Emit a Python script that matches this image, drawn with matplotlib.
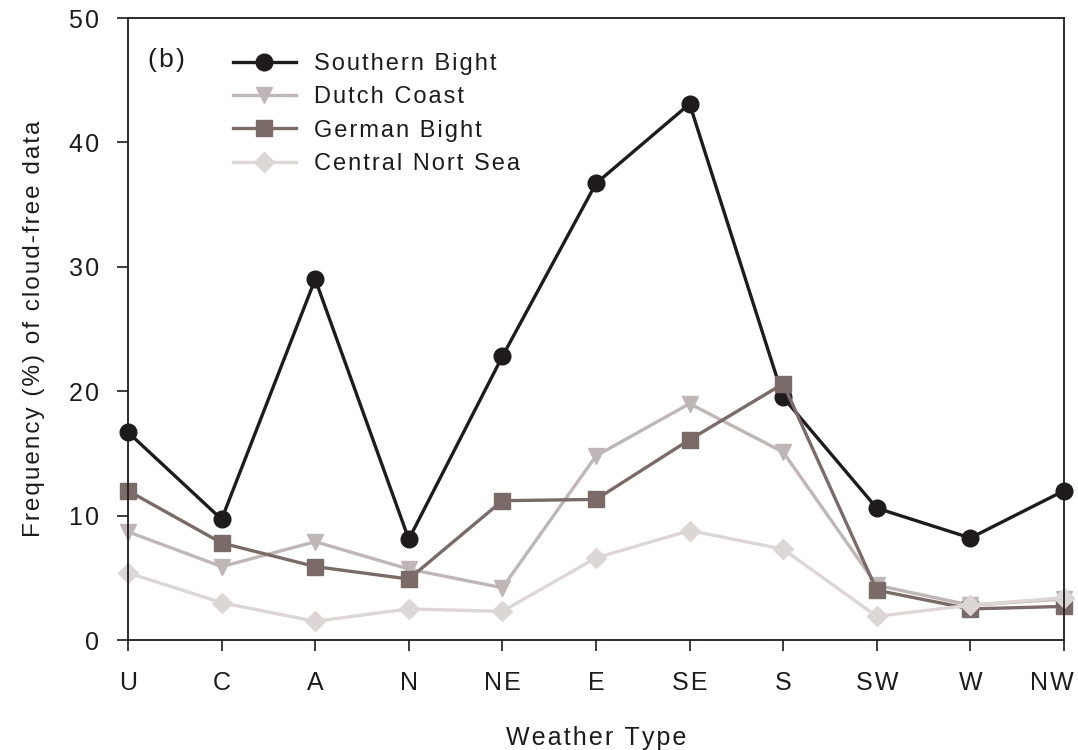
import matplotlib.pyplot as plt
import matplotlib.lines as mlines
from matplotlib.transforms import ScaledTranslation

plt.rcParams['font.family'] = ['Liberation Sans', 'DejaVu Sans']

weather_types = ['U', 'C', 'A', 'N', 'NE', 'E', 'SE', 'S', 'SW', 'W', 'NW']
southern_bight = [16.7, 9.7, 29.0, 8.1, 22.8, 36.7, 43.1, 19.5, 10.6, 8.2, 12.0]
dutch_coast = [8.7, 5.9, 7.9, 5.7, 4.2, 14.8, 19.0, 15.1, 4.4, 2.8, 3.3]
german_bight = [12.0, 7.8, 5.9, 4.9, 11.2, 11.3, 16.1, 20.6, 4.0, 2.5, 2.7]
central_north_sea = [5.4, 3.0, 1.5, 2.5, 2.3, 6.6, 8.8, 7.3, 1.9, 2.8, 3.4]

series = [
    ('Southern Bight', southern_bight, '#1f1a1c', 'o', 12),
    ('Dutch Coast', dutch_coast, '#bfb7b5', 'v', 12),
    ('German Bight', german_bight, '#7a6b69', 's', 11),
    ('Central Nort Sea', central_north_sea, '#dcd6d4', 'D', 10),
]


def track(s):
    # the original uses wide letter spacing; fake it with hair spaces
    return '\u200a'.join(s)


fig = plt.figure(figsize=(10.78, 7.5), dpi=100)
ax = fig.add_axes([128 / 1078, 110 / 750, 936 / 1078, 622 / 750])

x = list(range(len(weather_types)))
handles = []
for name, vals, c, m, ms in series:
    ax.plot(x, vals, color=c, lw=2.4, marker=m, ms=ms, mec=c, mfc=c, clip_on=False)
    handles.append(mlines.Line2D([], [], color=c, lw=2.4, marker=m, ms=ms, mec=c, mfc=c,
                                 label=track(name)))

ax.set_xlim(0, 10)
ax.set_ylim(0, 50)
ax.set_xticks(x)
ax.set_xticklabels([track(t) for t in weather_types])
ax.set_yticks(range(0, 51, 10))
ax.set_yticklabels([track(str(v)) for v in range(0, 51, 10)])
ax.tick_params(axis='both', direction='out', length=8, width=1.2, labelsize=18,
               colors='#1f1a1c')
ax.tick_params(axis='x', pad=14)
ax.tick_params(axis='y', pad=13)
lab = ax.get_xticklabels()[-1]
lab.set_transform(lab.get_transform() + ScaledTranslation(-12 / 100, 0, fig.dpi_scale_trans))
for sp in ax.spines.values():
    sp.set_linewidth(1.3)
    sp.set_color('#1f1a1c')

ax.set_xlabel(track('Weather Type'), fontsize=18, labelpad=23, color='#1f1a1c')
ax.set_ylabel(track('Frequency (%) of cloud-free data'), fontsize=17.5, labelpad=17,
              color='#1f1a1c')

ax.text(0.021, 0.932, track('(b)'), transform=ax.transAxes, fontsize=19, va='center',
        color='#1f1a1c')
leg = ax.legend(handles=handles, loc='upper left', bbox_to_anchor=(0.089, 0.978), frameon=False,
                fontsize=17, handlelength=2.7, labelspacing=0.48, handletextpad=0.75)
for t in leg.get_texts():
    t.set_color('#1f1a1c')

fig.savefig('out.png', dpi=100)
